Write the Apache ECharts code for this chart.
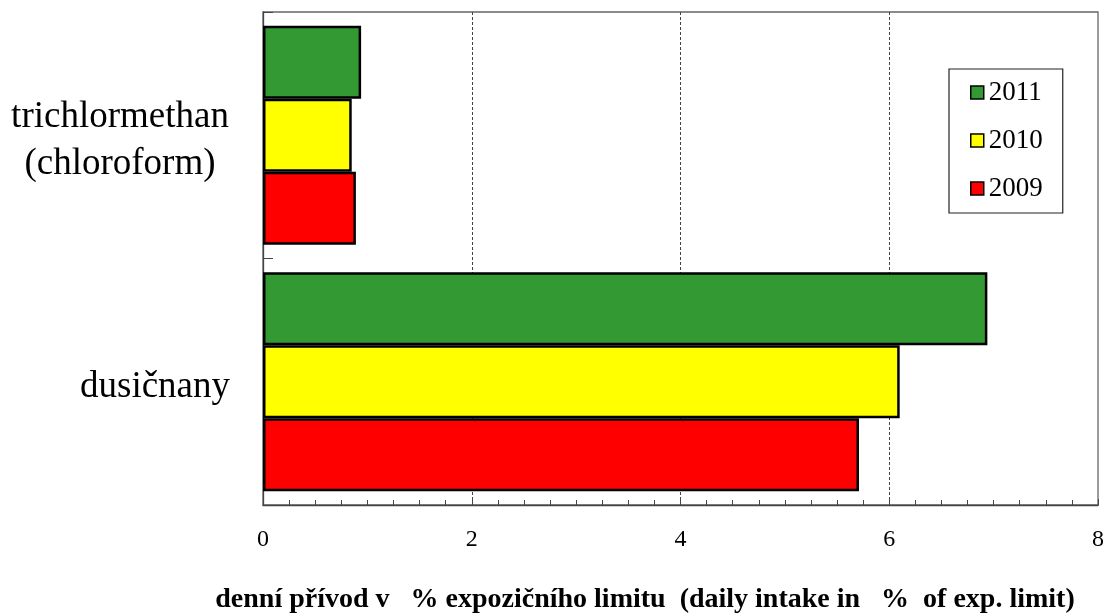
<!DOCTYPE html>
<html><head><meta charset="utf-8">
<script src="https://cdn.jsdelivr.net/npm/echarts@6/dist/echarts.min.js"></script>
<style>html,body{margin:0;padding:0;background:#fff}#c{width:1106px;height:614px}</style>
</head><body><div id="c"></div>
<script>
const categories = ['dusičnany', 'trichlormethan (chloroform)'];
const seriesNames = ['2011', '2010', '2009'];
const values2009 = [5.71, 0.89];
const values2010 = [6.10, 0.85];
const values2011 = [6.94, 0.94];
const xTicks = [0, 2, 4, 6, 8];
const legendOrder = ['2011', '2010', '2009'];
const colors = {'2009': '#ff0000', '2010': '#ffff00', '2011': '#339933'};
const axisTitle = 'denní přívod v   % expozičního limitu  (daily intake in   %  of exp. limit)';

const FONT = '"Liberation Serif", "DejaVu Serif", serif';
const dataBySeries = {'2009': values2009, '2010': values2010, '2011': values2011};

const chart = echarts.init(document.getElementById('c'));
chart.setOption({
  animation: false,
  backgroundColor: '#fff',
  grid: {left: 263, right: 8, top: 12, bottom: 109, show: true, borderColor: '#666', borderWidth: 1.3, containLabel: false, outerBoundsMode: 'none'},
  legend: {
    orient: 'vertical', left: 949, top: 69,
    data: legendOrder,
    padding: [10, 20, 11, 21],
    itemWidth: 13, itemHeight: 13, itemGap: 21,
    borderColor: '#222', borderWidth: 1.2,
    icon: 'rect',
    textStyle: {fontFamily: FONT, fontSize: 27, color: '#000'},
    itemStyle: {borderColor: '#000', borderWidth: 1.5}
  },
  xAxis: {
    type: 'value', min: xTicks[0], max: xTicks[xTicks.length - 1], interval: 2,
    axisLine: {show: true, lineStyle: {color: '#444', width: 1.3}},
    axisTick: {show: true, inside: true, length: 6, lineStyle: {color: '#444', width: 1}},
    minorTick: {show: true, splitNumber: 8, length: 5, lineStyle: {color: '#444', width: 1}},
    splitLine: {show: true, showMinLine: false, showMaxLine: false, lineStyle: {color: '#444', type: [3, 2], width: 1}},
    axisLabel: {fontFamily: FONT, fontSize: 24, color: '#000', margin: 23},
    name: axisTitle, nameLocation: 'middle', nameGap: 81,
    nameTextStyle: {fontFamily: FONT, fontSize: 28, fontWeight: 'bold', color: '#000', padding: [0, 71, 0, 0]}
  },
  yAxis: [{
    type: 'category', data: categories,
    axisLine: {show: true, lineStyle: {color: '#444', width: 1.3}},
    axisTick: {show: true, inside: true, length: 10, lineStyle: {color: '#444'}},
    axisLabel: {
      margin: 33, align: 'right', padding: [12, 0, 0, 0],
      formatter: function (v) {
        if (v.indexOf('(') >= 0) {
          const parts = v.split(' ');
          return '{c|' + parts[0] + '}\n{c|' + parts[1] + '}';
        }
        return '{r|' + v + '}';
      },
      rich: {
        c: {fontFamily: FONT, fontSize: 37, color: '#000', width: 220, align: 'center', lineHeight: 47},
        r: {fontFamily: FONT, fontSize: 37, color: '#000', lineHeight: 42}
      }
    }
  }, {
    type: 'category', data: categories, position: 'left', offset: 0,
    axisLine: {show: false},
    axisLabel: {show: false},
    axisTick: {show: true, inside: true, alignWithLabel: true, length: 9, lineStyle: {color: '#444'}}
  }],
  series: seriesNames.map(n => ({
    name: n, type: 'bar', yAxisIndex: 0,
    data: dataBySeries[n],
    barWidth: 73, barGap: '0%',
    itemStyle: {color: colors[n], borderColor: '#000', borderWidth: 2.5}
  }))
});
</script></body></html>
